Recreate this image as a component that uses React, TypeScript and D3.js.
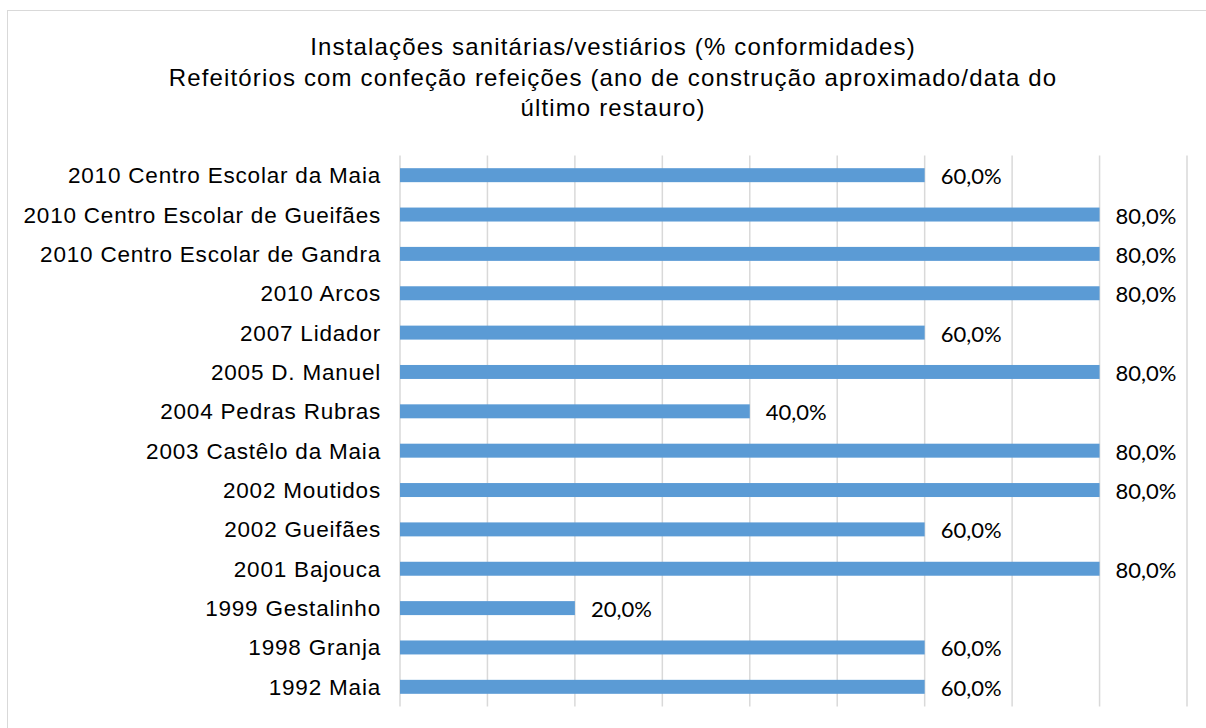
import React from 'react';
import * as d3 from 'd3';

const categories = [
  '2010 Centro Escolar da Maia',
  '2010 Centro Escolar de Gueifães',
  '2010 Centro Escolar de Gandra',
  '2010 Arcos',
  '2007 Lidador',
  '2005 D. Manuel',
  '2004 Pedras Rubras',
  '2003 Castêlo da Maia',
  '2002 Moutidos',
  '2002 Gueifães',
  '2001 Bajouca',
  '1999 Gestalinho',
  '1998 Granja',
  '1992 Maia',
];
const values = [0.6, 0.8, 0.8, 0.8, 0.6, 0.8, 0.4, 0.8, 0.8, 0.6, 0.8, 0.2, 0.6, 0.6];
const gridTicks = [0, 0.1, 0.2, 0.3, 0.4, 0.5, 0.6, 0.7, 0.8, 0.9];
const titleLines = [
  'Instalações sanitárias/vestiários (% conformidades)',
  'Refeitórios com confeção refeições (ano de construção aproximado/data do',
  'último restauro)',
];

const W = 1206;
const H = 728;
const plot = { left: 400, right: 1187, top: 155.5, bottom: 706.5 };
const arial = "'Liberation Sans', Arial, sans-serif";

export default function App() {
  const x = d3.scaleLinear().domain([0, 0.9]).range([plot.left, plot.right]);
  const y = d3.scaleBand().domain(categories).range([plot.top, plot.bottom]).paddingInner(0.645).paddingOuter(0.3225);
  const fmt = (v: number) => (v * 100).toFixed(1).replace('.', ',') + '%';

  return (
    <svg width={W} height={H} style={{ position: 'absolute', left: 0, top: 0, background: '#fff' }}>
      <rect x={7.5} y={10.5} width={1230} height={740} fill="#fff" stroke="#d9d9d9" strokeWidth={1} />
      <g fontFamily={arial} fontSize={24} letterSpacing={1.15} fill="#000" textAnchor="middle">
        {titleLines.map((t, i) => (
          <text key={i} x={613} y={55 + i * 30.5}>{t}</text>
        ))}
      </g>
      <g stroke="#d9d9d9" strokeWidth={1.5}>
        {gridTicks.map(t => (
          <line key={t} x1={x(t)} x2={x(t)} y1={plot.top} y2={plot.bottom} />
        ))}
      </g>
      <g fill="#5b9bd5">
        {categories.map((c, i) => (
          <rect key={c} x={x(0)} y={y(c)!} width={x(values[i]) - x(0)} height={y.bandwidth()} />
        ))}
      </g>
      <g fontFamily={arial} fontSize={22.5} letterSpacing={0.8} fill="#000" textAnchor="end">
        {categories.map(c => (
          <text key={c} x={381} y={y(c)! + y.bandwidth() / 2 + 8}>{c}</text>
        ))}
      </g>
      <g fontFamily="Lato, 'Open Sans', sans-serif" fontSize={22} fill="#000">
        {categories.map((c, i) => (
          <text key={c} x={x(values[i]) + 16} y={y(c)! + y.bandwidth() / 2 + 9}>{fmt(values[i])}</text>
        ))}
      </g>
    </svg>
  );
}
